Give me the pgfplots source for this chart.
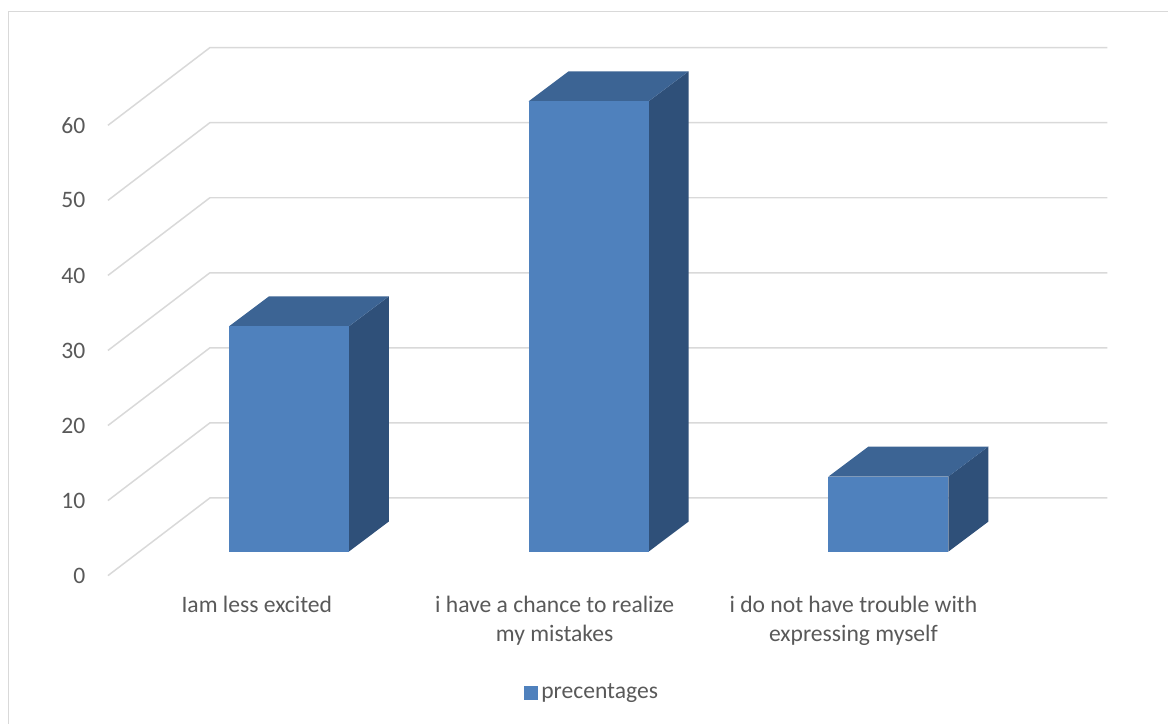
\documentclass[border=0pt]{standalone}
\usepackage{fontspec}
\setmainfont{Carlito}
\usepackage{pgfplots}
\pgfplotsset{compat=1.18}
\definecolor{front}{HTML}{4F81BD}
\definecolor{topc}{HTML}{3C6494}
\definecolor{side}{HTML}{2F5079}
\definecolor{gridc}{HTML}{D9D9D9}
\definecolor{txt}{HTML}{595959}
\begin{document}
\begin{tikzpicture}
\begin{axis}[
  x=0.5pt, y=3.755pt,
  xmin=-108, xmax=1061, ymin=-19.71, ymax=76.70,
  clip=false,
  axis line style={draw=none},
  major tick length=0pt,
  tick style={draw=none},
  ytick={0,10,20,30,40,50,60},
  xtick={149,447,746},
  xticklabels={{Iam less excited},{i have a chance to realize\\my mistakes},{i do not have trouble with\\expressing myself}},
  ticklabel style={font=\fontsize{11.8}{14.5}\selectfont, text=txt},
  /pgf/number format/assume math mode=true,
  yticklabel style={anchor=east, inner sep=0pt, xshift=42.85pt},
  xticklabel style={anchor=north, inner sep=0pt, yshift=63.8pt, align=center},
  legend style={at={(0.5073,0.0428)}, anchor=center, draw=none, fill=none,
    font=\fontsize{11.8}{14.5}\selectfont, text=txt, inner sep=0pt,
    nodes={inner sep=1.5pt}},
]
% gridlines: front diagonal from (0,v) to back wall (102,v+10.35), then along back wall
\addplot[gridc, line width=0.75pt, forget plot] coordinates {(0,0) (102,10.35) (1000,10.35)};
\addplot[gridc, line width=0.75pt, forget plot] coordinates {(0,10) (102,20.35) (1000,20.35)};
\addplot[gridc, line width=0.75pt, forget plot] coordinates {(0,20) (102,30.35) (1000,30.35)};
\addplot[gridc, line width=0.75pt, forget plot] coordinates {(0,30) (102,40.35) (1000,40.35)};
\addplot[gridc, line width=0.75pt, forget plot] coordinates {(0,40) (102,50.35) (1000,50.35)};
\addplot[gridc, line width=0.75pt, forget plot] coordinates {(0,50) (102,60.35) (1000,60.35)};
\addplot[gridc, line width=0.75pt, forget plot] coordinates {(0,60) (102,70.35) (1000,70.35)};
% bar 1: value 30 (base 3.2, depth offset (40,4))
\addplot[fill=side, draw=none, forget plot] coordinates {(241,3.2) (281,7.2) (281,37.2) (241,33.2)} -- cycle;
\addplot[fill=topc, draw=none, forget plot] coordinates {(121,33.2) (241,33.2) (281,37.2) (161,37.2)} -- cycle;
\addplot[fill=front, draw=none,
  legend image code/.code={\fill[front] (0pt,-3.5pt) rectangle (7pt,3.5pt);}]
  coordinates {(121,3.2) (241,3.2) (241,33.2) (121,33.2)} -- cycle;
\addlegendentry{precentages}
% bar 2: value 60
\addplot[fill=side, draw=none, forget plot] coordinates {(541,3.2) (581,7.2) (581,67.2) (541,63.2)} -- cycle;
\addplot[fill=topc, draw=none, forget plot] coordinates {(421,63.2) (541,63.2) (581,67.2) (461,67.2)} -- cycle;
\addplot[fill=front, draw=none, forget plot] coordinates {(421,3.2) (541,3.2) (541,63.2) (421,63.2)} -- cycle;
% bar 3: value 10
\addplot[fill=side, draw=none, forget plot] coordinates {(841,3.2) (881,7.2) (881,17.2) (841,13.2)} -- cycle;
\addplot[fill=topc, draw=none, forget plot] coordinates {(721,13.2) (841,13.2) (881,17.2) (761,17.2)} -- cycle;
\addplot[fill=front, draw=none, forget plot] coordinates {(721,3.2) (841,3.2) (841,13.2) (721,13.2)} -- cycle;
% chart frame (left and top edges visible)
\draw[gridc, line width=0.75pt] (axis cs:-99.5,-19.71) |- (axis cs:1061,75.17);
\end{axis}
\end{tikzpicture}
\end{document}
